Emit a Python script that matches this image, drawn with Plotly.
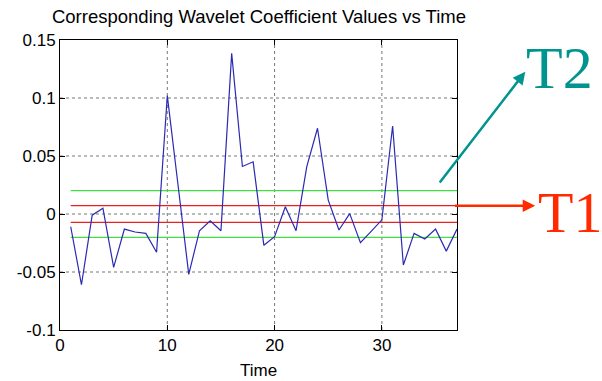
import plotly.graph_objects as go

time = list(range(1, 38))
coef = [-0.011, -0.061, -0.001, 0.005, -0.046, -0.013, -0.0155, -0.0167, -0.033, 0.102,
        0.025, -0.052, -0.0144, -0.0058, -0.0144, 0.1385, 0.041, 0.045, -0.027, -0.0196,
        0.0063, -0.0144, 0.0408, 0.0739, 0.012, -0.0138, 0.0003, -0.0247, -0.015, -0.005,
        0.0759, -0.044, -0.0167, -0.0216, -0.013, -0.032, -0.013]
t1 = 0.0072
t2 = 0.0202
x_span = [1, 37]
x_range = [0, 37]
y_range = [-0.1, 0.15]
x_ticks = [0, 10, 20, 30]
y_ticks = [-0.1, -0.05, 0, 0.05, 0.1, 0.15]
y_ticklabels = ["-0.1", "-0.05", "0", "0.05", "0.1", "0.15"]

fig = go.Figure()
# dotted grid drawn from the tick lists
grid_style = dict(color="#777777", width=1, dash="dot")
for xv in x_ticks[1:]:
    fig.add_trace(go.Scatter(x=[xv, xv], y=y_range, mode="lines", line=grid_style,
                             hoverinfo="skip"))
for yv in y_ticks[1:-1]:
    fig.add_trace(go.Scatter(x=x_range, y=[yv, yv], mode="lines", line=grid_style,
                             hoverinfo="skip"))
for v in (t2, -t2):
    fig.add_trace(go.Scatter(x=x_span, y=[v, v], mode="lines",
                             line=dict(color="#44dd44", width=1.2), hoverinfo="skip"))
for v in (t1, -t1):
    fig.add_trace(go.Scatter(x=x_span, y=[v, v], mode="lines",
                             line=dict(color="#e82020", width=1.2), hoverinfo="skip"))
fig.add_trace(go.Scatter(x=time, y=coef, mode="lines",
                         line=dict(color="#2a2ab4", width=1.2)))

axis_common = dict(showline=True, linecolor="black", linewidth=1, mirror="ticks",
                   ticks="inside", ticklen=5, tickcolor="black",
                   showgrid=False, zeroline=False,
                   tickfont=dict(family="Liberation Sans", size=17, color="black"))

fig.update_xaxes(range=x_range, tickvals=x_ticks, ticktext=[str(v) for v in x_ticks],
                 **axis_common)
fig.update_yaxes(range=y_range, tickvals=y_ticks, ticktext=y_ticklabels,
                 **axis_common)

fig.update_layout(
    width=602, height=381,
    margin=dict(l=60, r=145, t=40, b=51),
    paper_bgcolor="white", plot_bgcolor="white",
    showlegend=False,
    title=dict(text="Corresponding Wavelet Coefficient Values vs Time",
               font=dict(family="Liberation Sans", size=18.5, color="black"),
               x=(259) / 602, xanchor="center", y=1 - 17 / 381, yanchor="middle"),
    annotations=[
        dict(xref="paper", yref="paper", x=0.5, y=-0.138, text="Time", showarrow=False,
             font=dict(family="Liberation Sans", size=17, color="black"),
             xanchor="center", yanchor="middle"),
        dict(xref="paper", yref="paper", x=1.172, y=0.8907, ax=-86.7, ay=112.3,
             axref="pixel", ayref="pixel", showarrow=True, arrowhead=2, arrowsize=1,
             arrowwidth=2.5, arrowcolor="#009490", text=""),
        dict(xref="paper", yref="y", x=1.197, y=t1, ax=-81.7, ay=0,
             showarrow=True, arrowhead=2, arrowsize=1, arrowwidth=2.5,
             arrowcolor="#ff2a00", text=""),
        dict(xref="paper", yref="paper", x=1.2575, y=0.905, text="T2", showarrow=False,
             font=dict(family="Liberation Serif", size=60, color="#009490"),
             xanchor="center", yanchor="middle"),
        dict(xref="paper", yref="paper", x=1.284, y=0.405, text="T1", showarrow=False,
             font=dict(family="Liberation Serif", size=58, color="#ff2a00"),
             xanchor="center", yanchor="middle"),
    ],
)

fig.write_html("out.html")
